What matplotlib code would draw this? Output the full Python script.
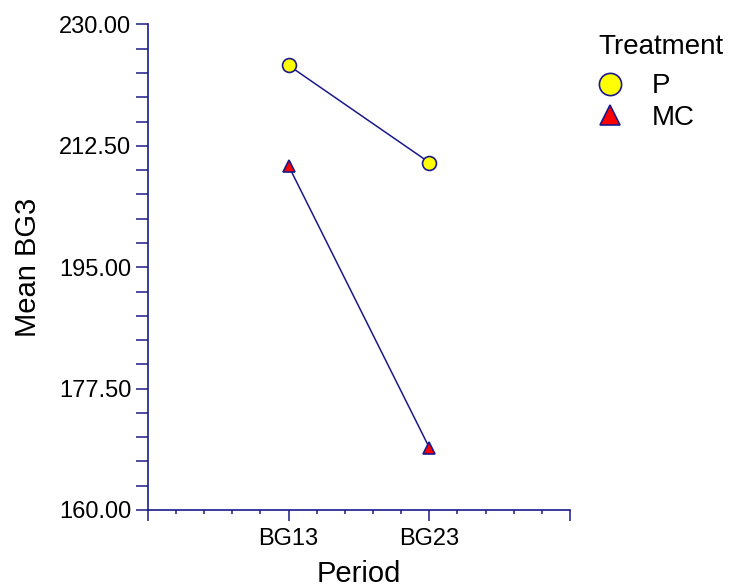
import matplotlib.pyplot as plt
from matplotlib.ticker import FixedLocator, FormatStrFormatter

plt.rcParams['font.family'] = ['Liberation Sans', 'DejaVu Sans']

periods = ['BG13', 'BG23']
treatments = ['P', 'MC']
mean_p = [224.1, 210.1]
mean_mc = [209.6, 169.0]

navy = '#1a1a8c'

fig = plt.figure(figsize=(7.3, 5.87), dpi=100)
ax = fig.add_axes([0.2027, 0.1312, 0.578, 0.8271])

x = [1, 2]
ax.plot(x, mean_p, color=navy, lw=1.1, marker='o', ms=10,
        mfc='#ffff00', mec=navy, mew=1.2, label=treatments[0], clip_on=False)
ax.plot(x, mean_mc, color=navy, lw=1.1, marker='^', ms=9,
        mfc='#ff0000', mec=navy, mew=1.2, label=treatments[1], clip_on=False)

ax.set_xlim(0, 3)
ax.set_ylim(160, 230)

# x: categories at 1 and 2, unlabeled ends, minor ticks every 0.2
ax.set_xticks([0, 1, 2, 3])
ax.set_xticklabels(['', periods[0], periods[1], ''])
ax.xaxis.set_minor_locator(FixedLocator([i * 0.2 for i in range(16)]))

# y: majors every 17.5 from 160, minors every 3.5
ax.yaxis.set_major_locator(FixedLocator([160 + 17.5 * i for i in range(5)]))
ax.yaxis.set_minor_locator(FixedLocator([160 + 3.5 * i for i in range(21)]))
ax.yaxis.set_major_formatter(FormatStrFormatter('%.2f'))

for s in ['top', 'right']:
    ax.spines[s].set_visible(False)
for s in ['left', 'bottom']:
    ax.spines[s].set_color(navy)
    ax.spines[s].set_linewidth(1.2)

ax.tick_params(axis='both', which='both', colors=navy, labelcolor='black',
               labelsize=17, direction='out', width=1.1)
ax.tick_params(axis='y', which='both', length=9, pad=3)
ax.tick_params(axis='x', which='major', length=8, pad=5)
ax.tick_params(axis='x', which='minor', length=3)

ax.set_xlabel('Period', fontsize=21, labelpad=7)
ax.set_ylabel('Mean BG3', fontsize=21, labelpad=12)

# legend: title as separate text, entries below it
fig.text(598 / 730, 1 - 46.7 / 587, 'Treatment', fontsize=20, va='center', ha='left')
leg = ax.legend(loc='center left', bbox_to_anchor=(0.798, 1 - 102 / 587),
                bbox_transform=fig.transFigure, frameon=False, fontsize=20,
                handlelength=1.0, handletextpad=1.0, labelspacing=0.2,
                markerscale=1.6, borderpad=0.0)
for h in leg.legend_handles:
    h.set_linestyle('none')

fig.savefig('out.png', dpi=100)
